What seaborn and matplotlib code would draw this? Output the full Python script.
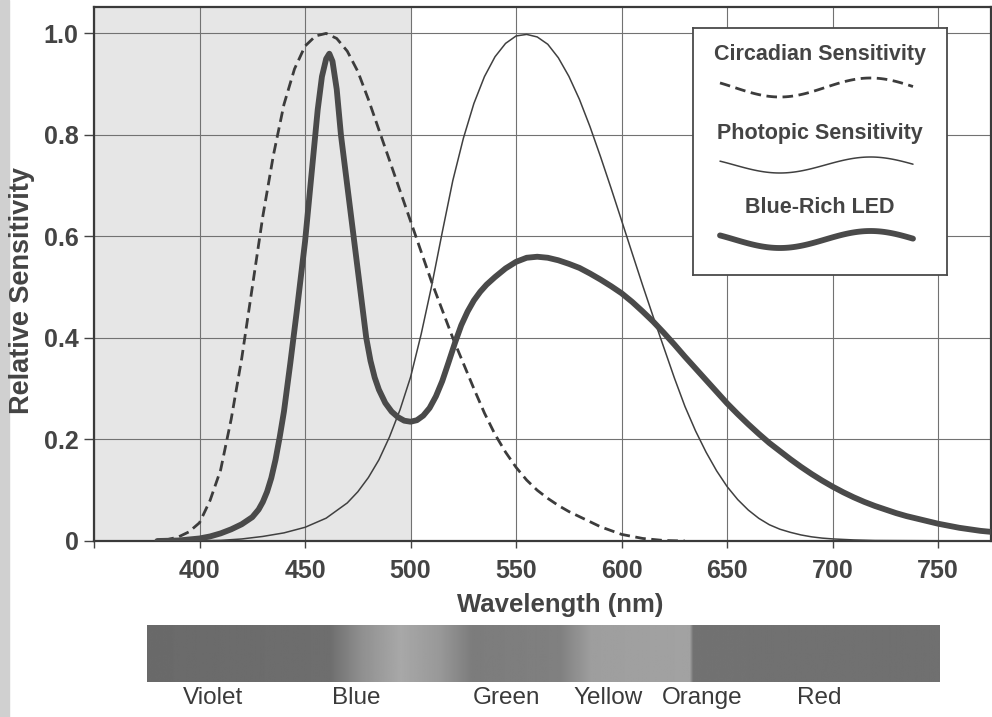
import numpy as np
import pandas as pd
import matplotlib
matplotlib.use('Agg')
import matplotlib.pyplot as plt
import seaborn as sns
from matplotlib.patches import Rectangle

# circadian sensitivity (dashed)
circ_nm = [383, 385, 390, 395, 400, 405, 410, 415, 420, 425, 430, 435, 440, 445, 450,
           455, 460, 465, 470, 475, 480, 485, 490, 495, 500, 505, 510, 515, 520, 525,
           530, 535, 540, 545, 550, 555, 560, 565, 570, 575, 580, 590, 600, 610, 620, 630]
circ_val = [0.0, 0.003, 0.008, 0.018, 0.036, 0.08, 0.14, 0.24, 0.36, 0.50, 0.64, 0.76,
            0.86, 0.93, 0.975, 0.995, 1.0, 0.99, 0.965, 0.925, 0.87, 0.81, 0.75, 0.69,
            0.63, 0.57, 0.51, 0.455, 0.40, 0.35, 0.30, 0.252, 0.21, 0.175, 0.145, 0.12,
            0.10, 0.084, 0.07, 0.058, 0.048, 0.028, 0.013, 0.005, 0.001, 0.0]

# photopic sensitivity (thin)
phot_nm = [395, 400, 410, 420, 430, 440, 450, 460, 470, 475, 480, 485, 490, 495, 500,
           505, 510, 515, 520, 525, 530, 535, 540, 545, 550, 555, 560, 565, 570, 575,
           580, 585, 590, 595, 600, 605, 610, 615, 620, 625, 630, 635, 640, 645, 650,
           655, 660, 665, 670, 675, 680, 685, 690, 695, 700, 710, 720, 775]
phot_val = [0.0, 0.0004, 0.0012, 0.004, 0.009, 0.016, 0.027, 0.045, 0.075, 0.097,
            0.125, 0.16, 0.205, 0.2586, 0.323, 0.4073, 0.503, 0.6082, 0.71, 0.7932,
            0.862, 0.9149, 0.954, 0.9803, 0.995, 0.998, 0.993, 0.9786, 0.952, 0.9154,
            0.87, 0.8163, 0.757, 0.6949, 0.631, 0.5668, 0.503, 0.4412, 0.381, 0.321,
            0.265, 0.217, 0.175, 0.1382, 0.107, 0.0816, 0.061, 0.0446, 0.032, 0.0232,
            0.017, 0.0119, 0.0082, 0.0057, 0.0041, 0.0021, 0.001, 0.0]

# blue-rich LED spectrum (thick)
led_nm = [380, 390, 400, 405, 410, 415, 420, 425, 428, 430, 432, 434, 436, 438, 440,
          443, 446, 450, 453, 456, 458, 460, 461.5, 463, 465, 467, 470, 473, 476, 479,
          481, 483, 485, 488, 491, 494, 497, 500, 503, 506, 509, 512, 515, 518, 521,
          524, 527, 530, 533, 536, 540, 545, 550, 555, 560, 565, 570, 575, 580, 585,
          590, 595, 600, 605, 610, 615, 620, 625, 630, 635, 640, 645, 650, 655, 660,
          665, 670, 675, 680, 685, 690, 695, 700, 705, 710, 715, 720, 725, 730, 735,
          740, 745, 750, 755, 760, 765, 770, 775]
led_val = [0.0, 0.001, 0.005, 0.009, 0.015, 0.023, 0.033, 0.047, 0.062, 0.077, 0.097,
           0.124, 0.16, 0.205, 0.255, 0.35, 0.45, 0.59, 0.72, 0.85, 0.915, 0.95, 0.96,
           0.945, 0.89, 0.80, 0.70, 0.60, 0.50, 0.40, 0.355, 0.322, 0.298, 0.272, 0.255,
           0.244, 0.237, 0.235, 0.238, 0.247, 0.262, 0.285, 0.315, 0.352, 0.39, 0.425,
           0.452, 0.474, 0.491, 0.505, 0.52, 0.537, 0.55, 0.558, 0.56, 0.558, 0.553,
           0.546, 0.538, 0.527, 0.515, 0.502, 0.488, 0.471, 0.452, 0.432, 0.41, 0.387,
           0.363, 0.34, 0.317, 0.294, 0.271, 0.25, 0.23, 0.211, 0.193, 0.177, 0.161,
           0.146, 0.132, 0.119, 0.107, 0.096, 0.086, 0.077, 0.069, 0.062, 0.055, 0.049,
           0.044, 0.039, 0.034, 0.030, 0.026, 0.023, 0.020, 0.018]

x_ticks = [350, 400, 450, 500, 550, 600, 650, 700, 750]
x_labels = ['', '400', '450', '500', '550', '600', '650', '700', '750']
y_ticks = [0, 0.2, 0.4, 0.6, 0.8, 1.0]
y_labels = ['0', '0.2', '0.4', '0.6', '0.8', '1.0']

legend_names = ['Circadian Sensitivity', 'Photopic Sensitivity', 'Blue-Rich LED']
band_names = ['Violet', 'Blue', 'Green', 'Yellow', 'Orange', 'Red']
band_x = [213, 356, 506, 608, 702, 819]

# grey levels of the spectrum strip (fraction along strip, grey 0-255)
strip_pos = [0.0, 0.23, 0.27, 0.32, 0.37, 0.41, 0.52, 0.56, 0.685, 0.689, 1.0]
strip_grey = [106, 110, 144, 168, 152, 124, 128, 158, 162, 114, 112]

W, H = 992, 717
ink = '#444444'

sns.set_theme(style='white')
plt.rcParams['font.family'] = ['Liberation Sans', 'DejaVu Sans']

fig = plt.figure(figsize=(W / 100, H / 100), dpi=100)
fig.patches.append(Rectangle((0, 0), 9 / W, 1, transform=fig.transFigure,
                             color='#d0d0d0', zorder=-1))

ax = fig.add_axes([94 / W, 1 - 541 / H, 897 / W, 534 / H])
ax.set_xlim(350, 775)
ax.set_ylim(0, 1.052)
ax.axvspan(350, 500, color='#e6e6e6', lw=0, zorder=0)

circ = pd.DataFrame({'nm': circ_nm, 'val': circ_val})
phot = pd.DataFrame({'nm': phot_nm, 'val': phot_val})
led = pd.DataFrame({'nm': led_nm, 'val': led_val})

sns.lineplot(data=circ, x='nm', y='val', ax=ax, color='#3c3c3c', lw=2.0,
             linestyle=(0, (3.8, 2.0)), errorbar=None, zorder=3)
sns.lineplot(data=phot, x='nm', y='val', ax=ax, color='#404040', lw=1.1,
             errorbar=None, zorder=3)
sns.lineplot(data=led, x='nm', y='val', ax=ax, color='#4a4a4a', lw=4.2,
             errorbar=None, zorder=4)
for ln in ax.lines:
    ln.set_solid_joinstyle('round')

ax.set_xticks(x_ticks)
ax.set_xticklabels(x_labels, fontsize=18, fontweight='bold', color=ink)
ax.set_yticks(y_ticks)
ax.set_yticklabels(y_labels, fontsize=18, fontweight='bold', color=ink)
ax.tick_params(axis='x', bottom=True, direction='out', length=5, width=1,
               color=ink, pad=8)
ax.tick_params(axis='y', left=True, direction='out', length=7, width=1,
               color=ink, pad=4)
ax.grid(True, color='#727272', lw=0.8)
ax.set_axisbelow(True)
ax.set_xlabel('')
ax.set_ylabel('')
for s in ax.spines.values():
    s.set_color('#3a3a3a')
    s.set_linewidth(1.6)

fig.text(560 / W, 1 - 612 / H, 'Wavelength (nm)', ha='center', va='baseline',
         fontsize=18.5, fontweight='bold', color=ink)
fig.text(22 / W, 1 - 291 / H, 'Relative Sensitivity', ha='center', va='center',
         rotation=90, fontsize=19.5, fontweight='bold', color=ink)

# legend box drawn in pixel coordinates
lax = fig.add_axes([693 / W, 1 - 275 / H, 254 / W, 247 / H])
lax.set_xlim(693, 947)
lax.set_ylim(275, 28)
lax.set_xticks([])
lax.set_yticks([])
lax.set_facecolor('white')
for s in lax.spines.values():
    s.set_color('#4a4a4a')
    s.set_linewidth(1.3)

t = np.linspace(0, 1, 80)
wx = 720 + 193 * t
wave = -np.cos(2 * np.pi * (t - 0.31) / 0.94)
lax.plot(wx, 87.5 - 9.5 * wave, color='#3c3c3c', lw=2.0, linestyle=(0, (3.8, 2.0)))
lax.plot(wx, 165 - 8 * wave, color='#404040', lw=1.1)
lax.plot(wx, 239.5 - 8.5 * wave, color='#4a4a4a', lw=4.2)
for name, ty in zip(legend_names, [54, 133, 207]):
    lax.text(820, ty, name, ha='center', va='center', fontsize=15.5,
             fontweight='bold', color=ink)

# spectrum strip
bax = fig.add_axes([147 / W, 1 - 682 / H, 793 / W, 57 / H])
grad = np.interp(np.linspace(0, 1, 800), strip_pos, strip_grey)
bax.imshow(grad[np.newaxis, :], cmap='gray', vmin=0, vmax=255, aspect='auto')
bax.set_axis_off()

for name, bx in zip(band_names, band_x):
    fig.text(bx / W, 1 - 698 / H, name, ha='center', va='center', fontsize=17.5,
             color='#3a3a3a')

fig.savefig('out.png', dpi=100)
